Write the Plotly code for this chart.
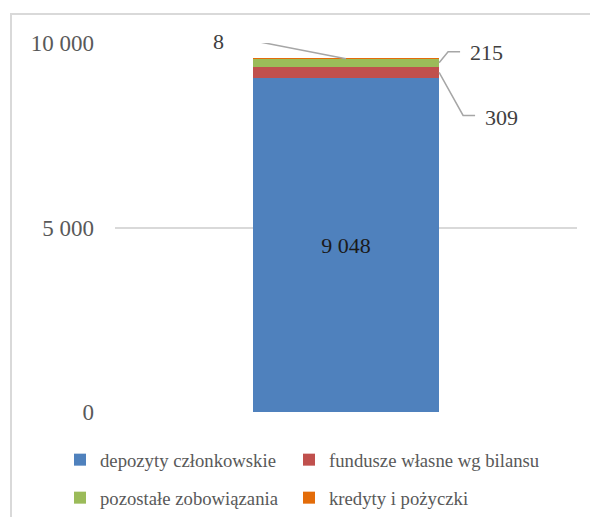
import plotly.graph_objects as go

# ---- data ----
categories = [0]
series_names = ["depozyty członkowskie", "fundusze własne wg bilansu",
                "pozostałe zobowiązania", "kredyty i pożyczki"]
series_values = [9048, 309, 215, 8]
value_labels = ["9 048", "309", "215", "8"]
tick_vals = [0, 5000, 10000]
tick_text = ["0", "5 000", "10 000"]

# ---- styles ----
series_colors = ["#4f81bd", "#c0504d", "#9bbb59", "#e36c09"]
legend_ids = ["legend", "legend2", "legend3", "legend4"]
FONT = "Liberation Serif"
BAR_W = 0.403
W, H = 590, 509          # page body adds an 8px margin
OFF = 8

fig = go.Figure()
for i, (name, v) in enumerate(zip(series_names, series_values)):
    if i == 0:
        kw = dict(text=[value_labels[i]], textposition="inside",
                  insidetextanchor="middle",
                  textfont=dict(family=FONT, size=22, color="#1a1a1a"))
    else:
        kw = dict(textposition="none")
    fig.add_bar(x=categories, y=[v], name=name, width=BAR_W,
                marker=dict(color=series_colors[i], line=dict(width=0)),
                legend=legend_ids[i], hoverinfo="skip", **kw)

# leader lines + labels for the thin segments (anchored to data positions)
bases = []
acc = 0
for v in series_values:
    bases.append(acc)
    acc += v

leader = {
    1: dict(xa=categories[0] + BAR_W / 2, path="M0,0 L24,-43 L36,-43", tx=44, ty=-45, anchor="left"),
    2: dict(xa=categories[0] + BAR_W / 2, path="M0,0 L9,11 L21,11", tx=29, ty=10, anchor="left"),
    3: dict(xa=categories[0], path="M0,0 L-101,19.5 L-111,19.5", tx=-120, ty=17, anchor="right"),
}
for i, spec in leader.items():
    ya = bases[i] + series_values[i] / 2
    fig.add_shape(type="path", xref="x", yref="y", xsizemode="pixel", ysizemode="pixel",
                  xanchor=spec["xa"], yanchor=ya, path=spec["path"],
                  line=dict(color="#a6a6a6", width=1.5), layer="above")
    fig.add_annotation(x=spec["xa"], y=ya, xref="x", yref="y", text=value_labels[i],
                       showarrow=False, xanchor=spec["anchor"], yanchor="middle",
                       xshift=spec["tx"], yshift=spec["ty"],
                       font=dict(family=FONT, size=22, color="#404040"))

# outer light frame
fig.add_shape(type="rect", xref="paper", yref="paper",
              x0=(11 - 115) / 462, x1=1.1, y0=-0.35, y1=(412 - 14) / 369,
              line=dict(color="#d9d9d9", width=2), fillcolor="rgba(0,0,0,0)", layer="below")

legend_common = dict(orientation="h", xref="container", xanchor="left",
                     yref="container", yanchor="middle",
                     bgcolor="rgba(0,0,0,0)",
                     font=dict(family=FONT, size=18.7, color="#595959"))
col_x = [52 / W, 281 / W]
row_y = [1 - (460 - OFF) / H, 1 - (498 - OFF) / H]

fig.update_layout(
    width=W, height=H,
    barmode="stack",
    paper_bgcolor="white", plot_bgcolor="white",
    margin=dict(l=115 - OFF, r=21, t=43 - OFF, b=105, autoexpand=False),
    font=dict(family=FONT, color="#595959"),
    xaxis=dict(range=[-0.5, 0.5], showticklabels=False, showgrid=False,
               zeroline=False, showline=False, ticks=""),
    yaxis=dict(range=[0, 10000], tickvals=tick_vals, ticktext=tick_text,
               showgrid=True, gridcolor="#d9d9d9", gridwidth=1.5, zeroline=False,
               showline=False, ticks="", ticklabelstandoff=20,
               tickfont=dict(family=FONT, size=23, color="#595959")),
    legend=dict(x=col_x[0], y=row_y[0], **legend_common),
    legend2=dict(x=col_x[1], y=row_y[0], **legend_common),
    legend3=dict(x=col_x[0], y=row_y[1], **legend_common),
    legend4=dict(x=col_x[1], y=row_y[1], **legend_common),
    showlegend=True,
)

fig.write_html("out.html")
